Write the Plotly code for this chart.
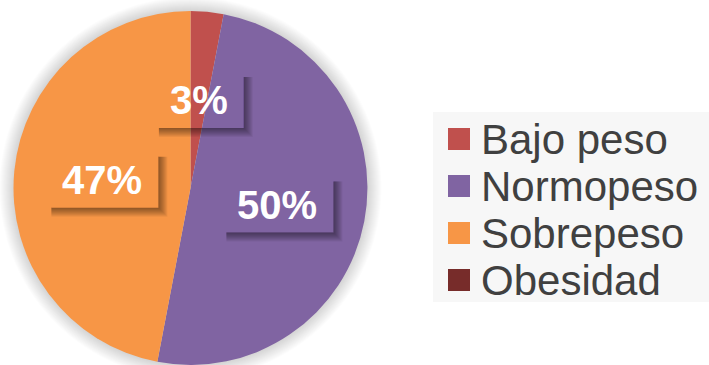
import math
import plotly.graph_objects as go

# Nutritional status distribution
categories = ["Bajo peso", "Normopeso", "Sobrepeso", "Obesidad"]
values = [3, 50, 47, 0]
colors = ["#C0504D", "#8064A2", "#F79646", "#772C2A"]

W, H = 709, 365
FONT = "Liberation Sans, Arial, sans-serif"

# pie geometry in pixels (origin top-left)
cx, cy, r = 190.5, 188.0, 177.0

fig = go.Figure()
fig.add_trace(go.Pie(
    labels=categories,
    values=values,
    marker=dict(colors=colors, line=dict(width=0)),
    sort=False,
    direction="clockwise",
    rotation=0,
    textinfo="none",
    hoverinfo="label+percent",
    showlegend=False,
    domain=dict(x=[(cx - r) / W, (cx + r) / W], y=[(H - (cy + r)) / H, (H - (cy - r)) / H]),
))

shapes = []
annotations = []

# soft glow around the pie
for k in range(1, 15):
    shapes.append(dict(type="circle", xref="x", yref="y", layer="below",
                       x0=cx - r - k, x1=cx + r + k, y0=cy - r - k, y1=cy + r + k,
                       fillcolor="rgba(0,0,0,0.012)", line=dict(width=0)))

# percentage labels at half radius, with a soft drop shadow on the label box
total = sum(values)
cum = 0.0
fs = 40
for cat, v in zip(categories, values):
    if v > 0:
        mid = (cum + v / 2) / total * 2 * math.pi
        lx = cx + 0.5 * r * math.sin(mid)
        ly = cy - 0.5 * r * math.cos(mid)
        txt = f"{v}%"
        tw = (len(txt) - 1) * 0.556 * fs + 0.889 * fs
        hw, hh = tw / 2 + 16, 28
        bx0, bx1, by0, by1 = lx - hw, lx + hw, ly - hh, ly + hh
        for k in range(1, 10):
            path = (f"M{bx1},{by0 + 5} L{bx1 + k},{by0 + 5} L{bx1 + k},{by1 + k} "
                    f"L{bx0 + 5},{by1 + k} L{bx0 + 5},{by1} L{bx1},{by1} Z")
            shapes.append(dict(type="path", xref="x", yref="y", layer="above", path=path,
                               fillcolor="rgba(0,0,0,0.055)", line=dict(width=0)))
        annotations.append(dict(x=lx, y=ly, xref="x", yref="y", text=f"<b>{txt}</b>",
                                showarrow=False, xanchor="center", yanchor="middle",
                                font=dict(family=FONT, size=fs, color="white")))
    cum += v

# legend
shapes.append(dict(type="rect", xref="x", yref="y", layer="below",
                   x0=433, x1=712, y0=112, y1=302,
                   fillcolor="#F7F7F7", line=dict(width=0)))
row0, step, sq = 139, 47, 22
for i, (cat, col) in enumerate(zip(categories, colors)):
    yc = row0 + i * step
    shapes.append(dict(type="rect", xref="x", yref="y", layer="above",
                       x0=448, x1=448 + sq, y0=yc - sq / 2, y1=yc + sq / 2,
                       fillcolor=col, line=dict(width=0)))
    annotations.append(dict(x=479, y=yc, xref="x", yref="y", text=cat,
                            showarrow=False, xanchor="left", yanchor="middle",
                            font=dict(family=FONT, size=42, color="#404040")))

fig.update_layout(
    width=W, height=H,
    margin=dict(l=0, r=0, t=0, b=0),
    paper_bgcolor="white", plot_bgcolor="rgba(0,0,0,0)",
    xaxis=dict(range=[0, W], visible=False, fixedrange=True),
    yaxis=dict(range=[H, 0], visible=False, fixedrange=True),
    shapes=shapes,
    annotations=annotations,
    showlegend=False,
)

fig.write_html("out.html")
